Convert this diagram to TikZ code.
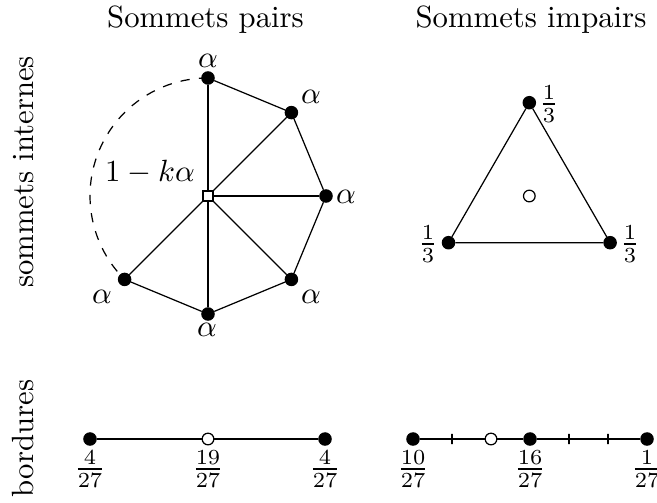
\documentclass[tikz,border=0pt]{standalone}
\begin{document}
\begin{tikzpicture}[x=0.3257pt,y=-0.3257pt,
  bdot/.style={circle,fill=black,draw=black,inner sep=0pt,minimum size=4pt},
  wdot/.style={circle,fill=white,draw=black,inner sep=0pt,minimum size=3.8pt},
  sq/.style={rectangle,fill=white,draw=black,inner sep=0pt,minimum size=3.2pt},
  tk/.style={rectangle,draw=black,inner sep=0pt,minimum width=0pt,minimum height=3.3pt},
  lab/.style={inner sep=0pt},
  fr/.style={inner sep=0pt}]
\useasboundingbox (0,0) rectangle (657,502);
% titles
\node[anchor=base] (t1) at (205.5,27) {Sommets pairs};
\node[anchor=base] (t2) at (531,27) {Sommets impairs};
\node[rotate=90,anchor=base] (s1) at (33,172) {sommets internes};
\node[rotate=90,anchor=base] (s2) at (33,438.5) {bordures};
% even vertex
\node[sq] (c) at (208,196) {};
\node[bdot] (v1) at (208,78) {};
\node[bdot] (v2) at (291.4,112.6) {};
\node[bdot] (v3) at (326,196) {};
\node[bdot] (v4) at (291.4,279.4) {};
\node[bdot] (v5) at (208,314) {};
\node[bdot] (v6) at (124.6,279.4) {};
\draw (v1) -- (v2) -- (v3) -- (v4) -- (v5) -- (v6);
\foreach \v in {v1,v2,v3,v4,v5,v6} \draw (c) -- (\v);
\draw[dashed] (v1.center) arc[start angle=90,end angle=225,radius=38.43pt];
\node[lab] (a1) at (208,61) {$\alpha$};
\node[lab] (a2) at (311,97) {$\alpha$};
\node[lab] (a3) at (346,197) {$\alpha$};
\node[lab] (a4) at (311,297) {$\alpha$};
\node[lab] (a5) at (207,330) {$\alpha$};
\node[lab] (a6) at (102,297) {$\alpha$};
\node[lab] (k) at (150,172) {$1-k\alpha$};
% odd vertex
\node[wdot] (o) at (529.3,196) {};
\node[bdot] (u1) at (529.3,102.7) {};
\node[bdot] (u2) at (448.5,242.7) {};
\node[bdot] (u3) at (610.1,242.7) {};
\draw (u1) -- (u2) -- (u3) -- (u1);
\node[fr] (f1) at (549,104) {$\frac{1}{3}$};
\node[fr] (f2) at (428,244) {$\frac{1}{3}$};
\node[fr] (f3) at (630,244) {$\frac{1}{3}$};
% bottom left
\node[bdot] (p1) at (90,439) {};
\node[wdot] (p2) at (208,439) {};
\node[bdot] (p3) at (325,439) {};
\draw (p1) -- (p2) -- (p3);
\node[fr] (g1) at (90,469) {$\frac{4}{27}$};
\node[fr] (g2) at (208,469) {$\frac{19}{27}$};
\node[fr] (g3) at (325,469) {$\frac{4}{27}$};
% bottom right
\node[bdot] (q0) at (413,439) {};
\node[tk] (q1) at (452,439) {};
\node[wdot] (q2) at (491,439) {};
\node[bdot] (q3) at (530,439) {};
\node[tk] (q4) at (569,439) {};
\node[tk] (q5) at (608,439) {};
\node[bdot] (q6) at (647,439) {};
\draw (q0) -- (q1) -- (q2) -- (q3) -- (q4) -- (q5) -- (q6);
\node[fr] (h1) at (413,469) {$\frac{10}{27}$};
\node[fr] (h2) at (530,469) {$\frac{16}{27}$};
\node[fr] (h3) at (647,469) {$\frac{1}{27}$};
\end{tikzpicture}
\end{document}
